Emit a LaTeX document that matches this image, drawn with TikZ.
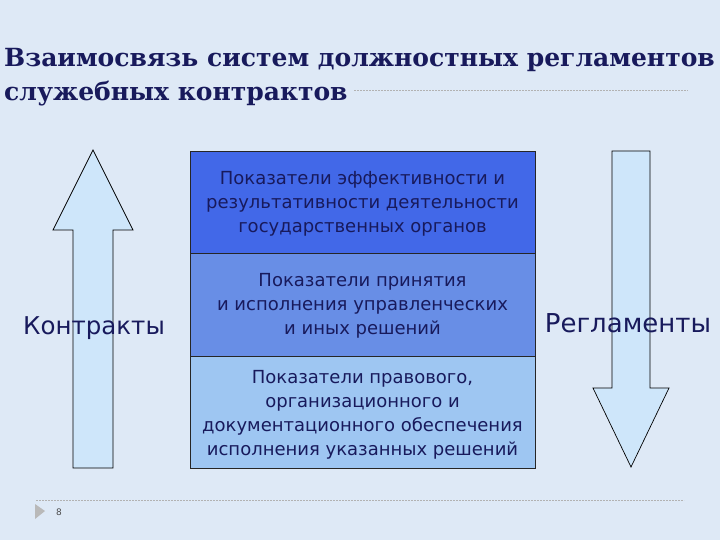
\documentclass[tikz,border=0pt]{standalone}
\usepackage{fontspec}
\setmainfont{DejaVu Sans}
\newfontfamily\titlefont{DejaVu Serif}
\definecolor{bgc}{RGB}{222,233,246}
\definecolor{navy}{RGB}{24,26,92}
\definecolor{boxA}{RGB}{66,104,232}
\definecolor{boxB}{RGB}{104,142,230}
\definecolor{boxC}{RGB}{158,198,242}
\definecolor{arrowfill}{RGB}{206,230,250}
\tikzset{
  tier/.style={draw=black!85, line width=0.8pt, minimum width=345pt, inner sep=0pt},
  tiertext/.style={inner sep=0pt, text=navy, align=center, font=\fontsize{18}{24}\selectfont},
  arrowshape/.style={draw=black, line width=0.7pt, fill=arrowfill},
  sidelabel/.style={text=navy, inner sep=0pt},
}
\begin{document}
\begin{tikzpicture}[x=1pt,y=-1pt]
\useasboundingbox (0,0) rectangle (720,540);
\clip (0,0) rectangle (720,540);
\fill[bgc] (0,0) rectangle (720,540);
% title
\node[anchor=west, text=navy, font=\titlefont\bfseries\fontsize{25}{34}\selectfont, inner sep=0pt, align=left] (title) at (4,77) {Взаимосвязь систем должностных регламентов\\служебных контрактов};
\coordinate (tl1) at (354,90);
\coordinate (tl2) at (688,90);
\draw[gray!60, dash pattern=on 2pt off 1pt, line width=0.6pt] (tl1) -- (tl2);
% arrows
\draw[arrowshape] (73,468) -- (73,230) -- (53,230) -- (93,150) -- (133,230) -- (113,230) -- (113,468) -- cycle;
\draw[arrowshape] (612,151) -- (650,151) -- (650,388) -- (669,388) -- (631,467) -- (593,388) -- (612,388) -- cycle;
% boxes
\node[tier, fill=boxA, minimum height=102pt] (b1) at (362.5,202) {};
\node[tier, fill=boxB, minimum height=103pt] (b2) at (362.5,304.5) {};
\node[tier, fill=boxC, minimum height=112pt] (b3) at (362.5,412) {};
\node[tiertext] (t1) at (362.5,204) {Показатели эффективности и\\результативности деятельности\\государственных органов};
\node[tiertext] (t2) at (362.5,306) {Показатели принятия\\и исполнения управленческих\\и иных решений};
\node[tiertext] (t3) at (362.5,415) {Показатели правового,\\организационного и\\документационного обеспечения\\исполнения указанных решений};
% side labels
\node[sidelabel, font=\fontsize{24.5}{28}\selectfont] (contr) at (94,328) {Контракты};
\node[sidelabel, font=\fontsize{26}{30}\selectfont] (regl) at (628,323) {Регламенты};
% footer
\coordinate (fl1) at (36,500);
\coordinate (fl2) at (684,500);
\draw[gray!60, dash pattern=on 2pt off 1pt, line width=0.6pt] (fl1) -- (fl2);
\fill[gray!55] (35,504) -- (45,511) -- (35,519) -- cycle;
\node[text=black!70, font=\fontsize{9}{10}\selectfont, inner sep=0pt] (pg) at (59,512) {8};
\end{tikzpicture}
\end{document}
